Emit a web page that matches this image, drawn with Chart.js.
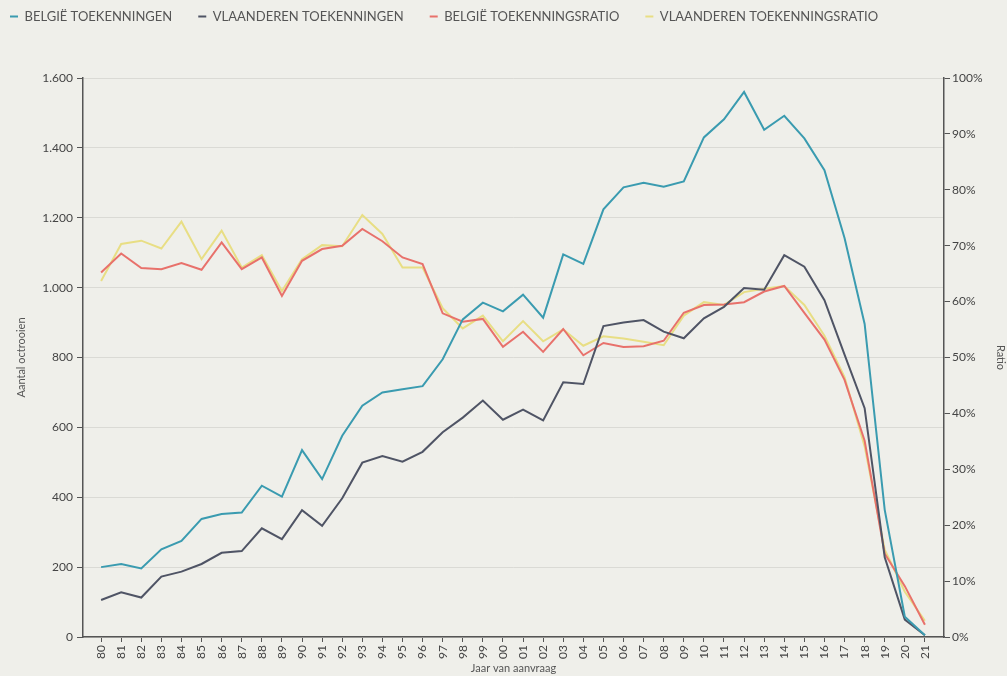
<!DOCTYPE html>
<html>
<head>
<meta charset="utf-8">
<script src="https://cdn.jsdelivr.net/npm/chart.js@4/dist/chart.umd.min.js"></script>
<style>
  html, body { margin: 0; padding: 0; background: #efefea; }
  #wrap { width: 1007px; height: 676px; }
</style>
</head>
<body>
<div id="wrap"><canvas id="octrooiChart" width="1007" height="676"></canvas></div>
<script>
const years = [1980, 1981, 1982, 1983, 1984, 1985, 1986, 1987, 1988, 1989,
  1990, 1991, 1992, 1993, 1994, 1995, 1996, 1997, 1998, 1999,
  2000, 2001, 2002, 2003, 2004, 2005, 2006, 2007, 2008, 2009,
  2010, 2011, 2012, 2013, 2014, 2015, 2016, 2017, 2018, 2019,
  2020, 2021];

const belgieToekenningen = [200, 209, 196, 251, 275, 338, 352, 356, 433, 402,
  535, 452, 576, 662, 700, 709, 718, 795, 909, 957,
  932, 980, 914, 1095, 1068, 1224, 1287, 1300, 1289, 1304,
  1430, 1482, 1560, 1452, 1492, 1427, 1336, 1142, 896, 364,
  58, 5];

const vlaanderenToekenningen = [106, 128, 113, 173, 187, 209, 241, 246, 311, 280,
  363, 318, 397, 499, 518, 502, 530, 586, 628, 677,
  622, 651, 620, 729, 724, 890, 900, 907, 874, 855,
  912, 945, 999, 994, 1093, 1060, 964, 808, 655, 228,
  50, 5];

// ratio in %
const belgieRatio = [65.2, 68.6, 66.0, 65.8, 66.9, 65.7, 70.6, 65.8, 67.9, 61.0,
  67.3, 69.4, 70.0, 73.0, 70.8, 67.9, 66.7, 57.9, 56.4, 56.9,
  51.9, 54.6, 51.0, 55.1, 50.4, 52.6, 51.9, 52.0, 53.0, 58.0,
  59.4, 59.5, 59.9, 61.8, 62.8, 58.0, 53.2, 46.0, 35.1, 14.9,
  9.1, 2.2];

const vlaanderenRatio = [63.7, 70.3, 70.9, 69.5, 74.3, 67.6, 72.7, 66.1, 68.3, 61.9,
  67.6, 70.1, 69.9, 75.5, 72.1, 66.1, 66.1, 58.8, 55.2, 57.5,
  52.9, 56.5, 52.9, 55.0, 52.1, 53.8, 53.4, 52.8, 52.2, 57.5,
  59.9, 59.4, 61.7, 62.3, 62.8, 59.4, 53.9, 46.5, 34.1, 15.6,
  8.1, 2.9];

const seriesNames = ["BELGIË TOEKENNINGEN", "VLAANDEREN TOEKENNINGEN",
  "BELGIË TOEKENNINGSRATIO", "VLAANDEREN TOEKENNINGSRATIO"];
const seriesColors = ["#3a9bb0", "#4f5465", "#e8716b", "#e8de84"];

function points(values) {
  return years.map(function (y, i) { return { x: y, y: values[i] }; });
}

function makeSet(idx, values, axis) {
  return {
    label: seriesNames[idx],
    data: points(values),
    borderColor: seriesColors[idx],
    backgroundColor: seriesColors[idx],
    borderWidth: 2,
    pointRadius: 0,
    tension: 0,
    yAxisID: axis
  };
}

const axisColor = "#555555";
const textColor = "#444444";
Chart.defaults.font.family = "Lato, 'Open Sans', sans-serif";

// make legend box taller so the plot starts lower
const legendSpacer = {
  id: "legendSpacer",
  afterInit(chart) {
    const fit = chart.legend.fit;
    chart.legend.fit = function () {
      fit.call(this);
      this.height = 94;
    };
  }
};

new Chart("octrooiChart", {
  type: "line",
  data: {
    datasets: [
      makeSet(0, belgieToekenningen, "y"),
      makeSet(1, vlaanderenToekenningen, "y"),
      makeSet(2, belgieRatio, "y1"),
      makeSet(3, vlaanderenRatio, "y1")
    ]
  },
  plugins: [legendSpacer],
  options: {
    responsive: false,
    animation: false,
    layout: { padding: { left: -16, top: -16, right: 0, bottom: 0 } },
    plugins: {
      tooltip: { enabled: false },
      legend: {
        position: "top",
        align: "start",
        labels: {
          boxWidth: 8,
          boxHeight: 2,
          padding: 26,
          color: "#555555",
          font: { size: 13 },
          generateLabels: function (chart) {
            const base = Chart.defaults.plugins.legend.labels.generateLabels(chart);
            return base.map(function (l) {
              l.lineWidth = 0;
              l.fillStyle = l.strokeStyle;
              return l;
            });
          }
        }
      }
    },
    scales: {
      x: {
        type: "linear",
        min: 1979.1,
        max: 2021.95,
        afterFit: function (s) { s.height = 39; },
        grid: { drawOnChartArea: false, tickLength: 5, tickColor: axisColor },
        border: { color: axisColor, width: 1.5 },
        ticks: {
          stepSize: 1,
          includeBounds: false,
          autoSkip: false,
          minRotation: 90,
          maxRotation: 90,
          padding: 3,
          color: textColor,
          font: { size: 12 },
          callback: function (v) {
            return String(Math.round(v) % 100).padStart(2, "0");
          }
        },
        title: {
          display: true,
          text: "Jaar van aanvraag",
          color: "#555555",
          font: { size: 11 },
          padding: { top: 0, bottom: 1 }
        }
      },
      y: {
        position: "left",
        min: 0,
        max: 1600,
        afterFit: function (s) { s.width = 99; },
        grid: { color: "#dadad5", lineWidth: 1, tickLength: 6, tickColor: axisColor },
        border: { color: axisColor, width: 1.5 },
        ticks: {
          stepSize: 200,
          padding: 4,
          color: textColor,
          font: { size: 12 },
          callback: function (v) {
            return String(v).replace(/\B(?=(\d{3})+(?!\d))/g, ".");
          }
        },
        title: {
          display: true,
          text: "Aantal octrooien",
          color: "#555555",
          font: { size: 11 },
          padding: { top: 31, bottom: 4 }
        }
      },
      y1: {
        position: "right",
        min: 0,
        max: 100,
        afterFit: function (s) { s.width = 63; },
        grid: { drawOnChartArea: false, tickLength: 6, tickColor: axisColor },
        border: { color: axisColor, width: 1.5 },
        ticks: {
          stepSize: 10,
          padding: 2,
          color: textColor,
          font: { size: 12 },
          callback: function (v) { return v + "%"; }
        },
        title: {
          display: true,
          text: "Ratio",
          color: "#555555",
          font: { size: 11 },
          padding: { top: 0, bottom: 4 }
        }
      }
    }
  }
});
</script>
</body>
</html>
